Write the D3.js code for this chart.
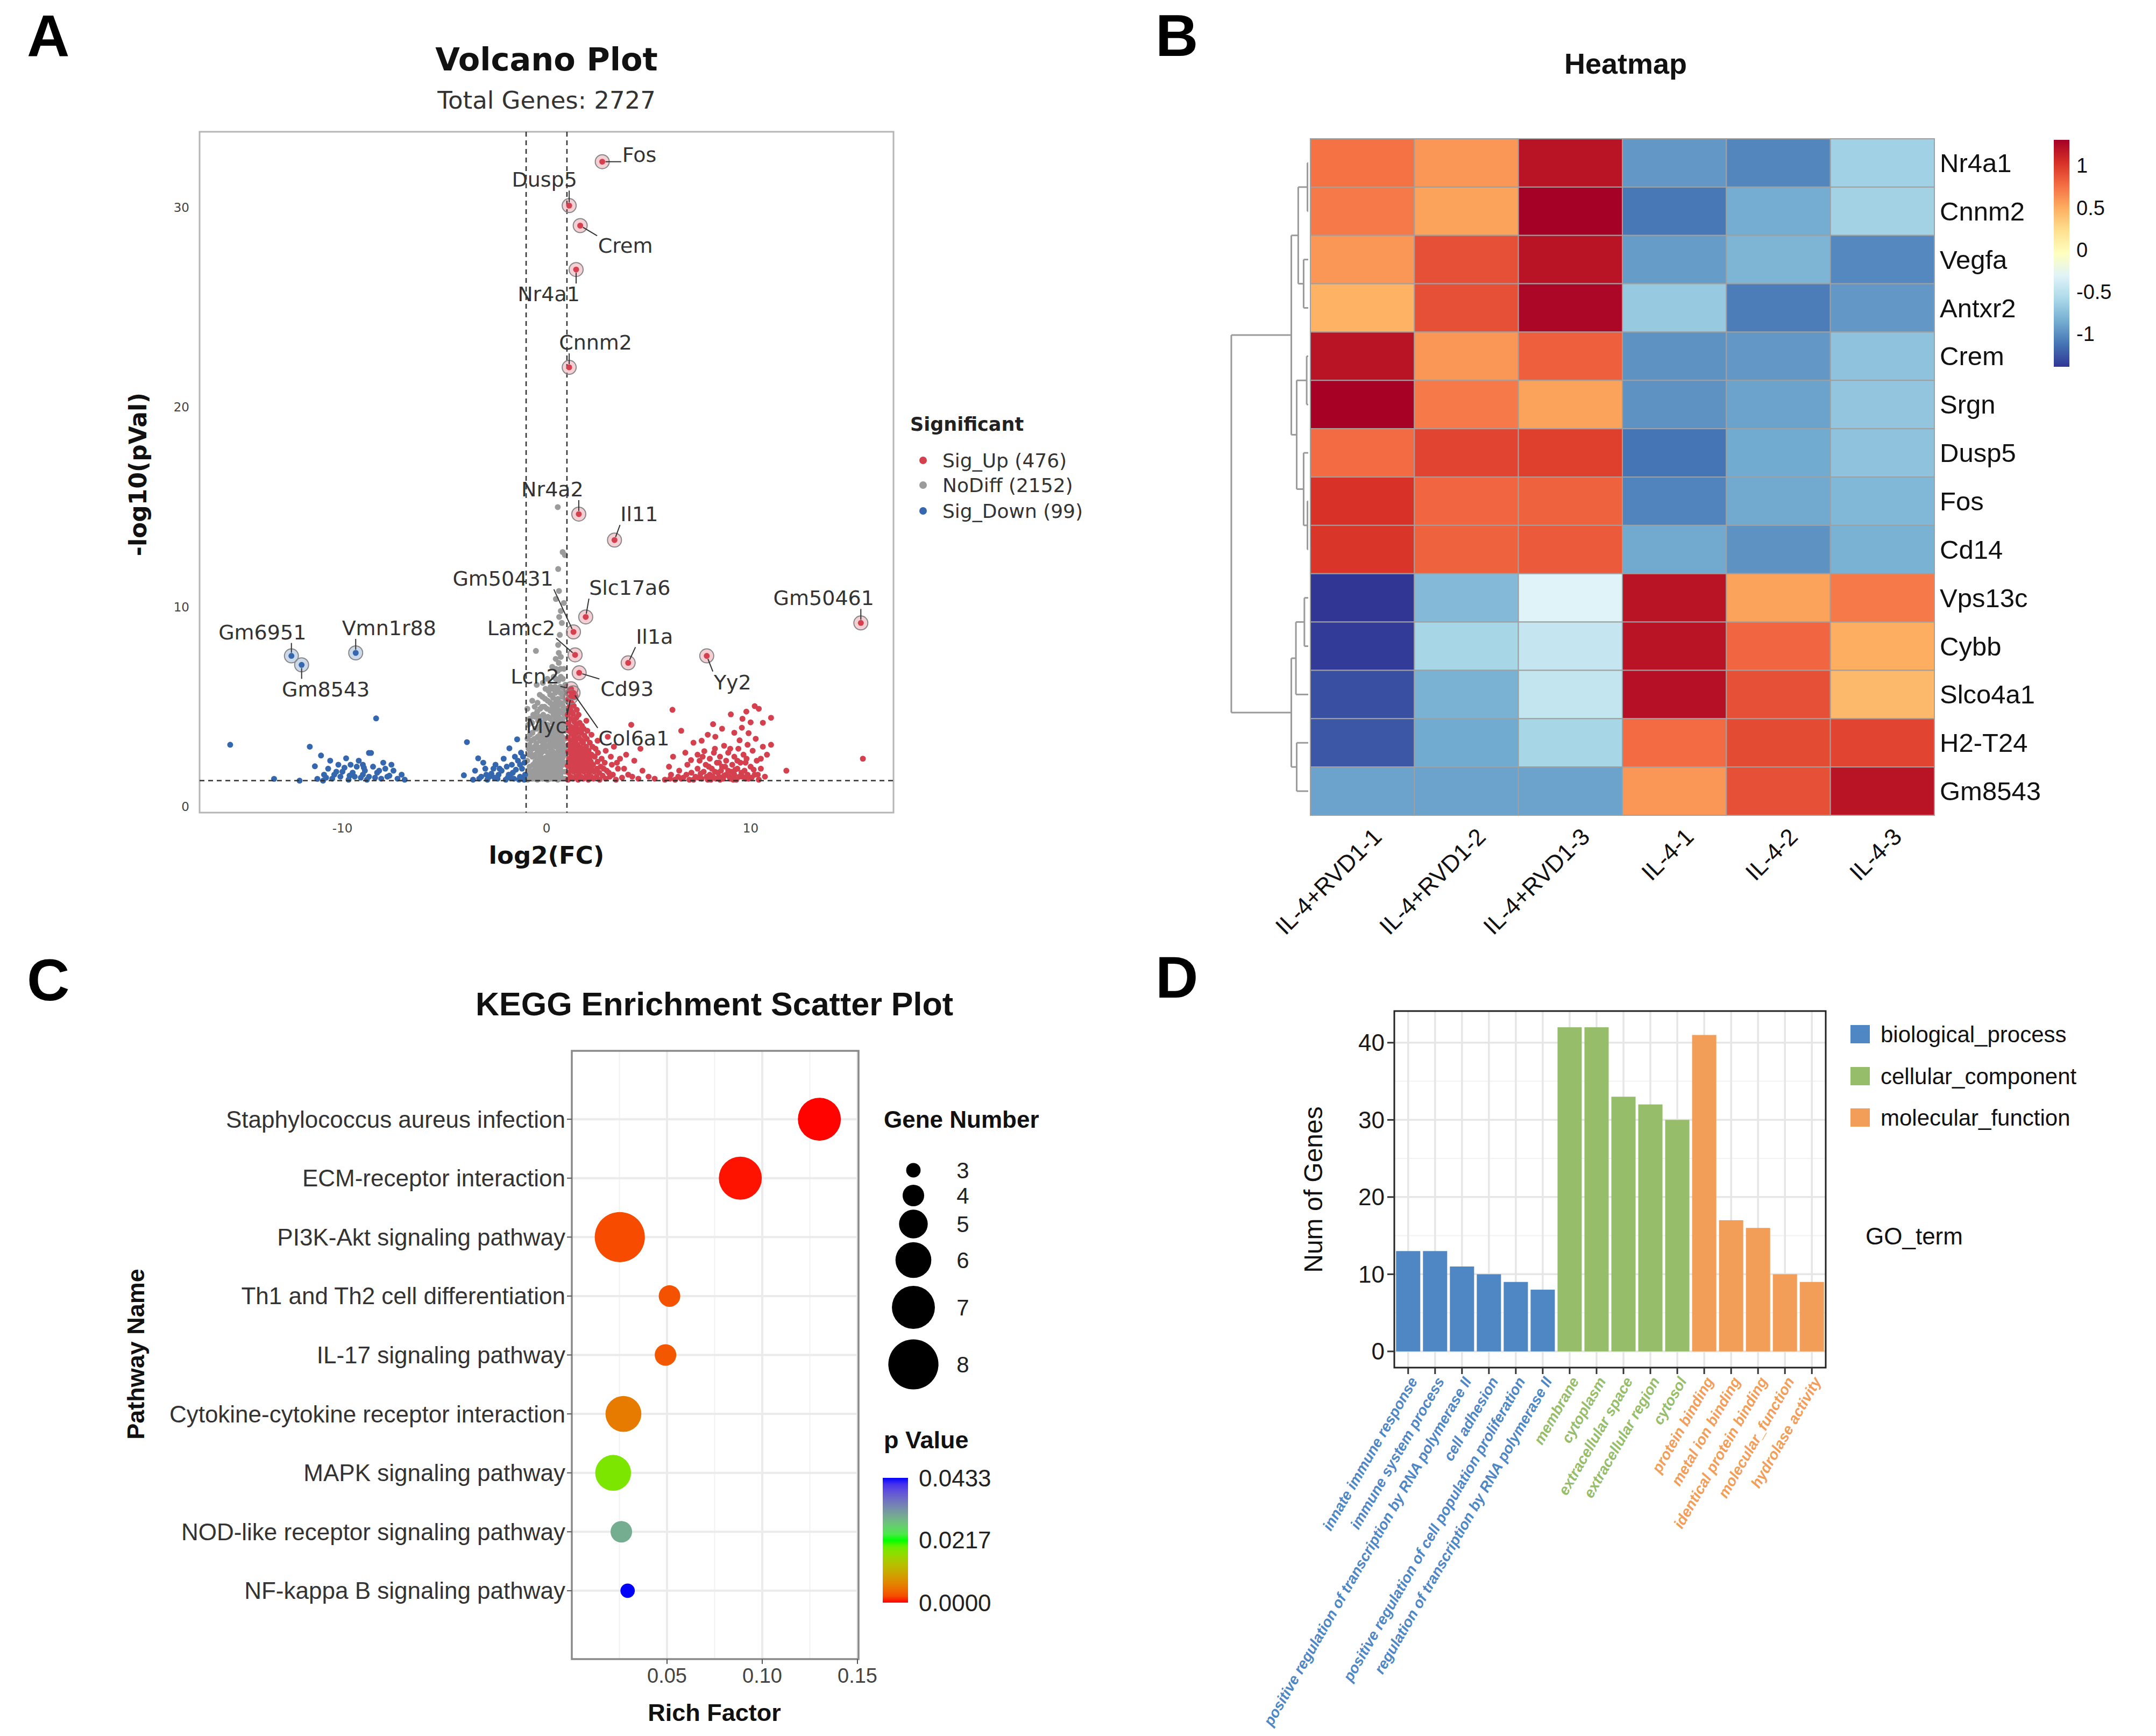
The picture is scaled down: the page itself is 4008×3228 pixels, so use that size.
<!DOCTYPE html>
<html><head><meta charset="utf-8">
<script src="https://cdn.jsdelivr.net/npm/d3@7"></script>
<style>body{margin:0;background:#fff} svg{display:block}</style>
</head><body>
<svg id="fig" width="4008" height="3228"></svg>
<script>
// ================= DATA =================
// Panel A: volcano (log2FC, -log10 p)
const volcanoNoDiff = [
[-0.92,1.35],[-0.9,1.8],[-0.95,2.3],[-0.88,2.9],[-0.93,3.4],[-0.9,4.1],[-0.94,4.9],
[-0.7,1.4],[-0.72,1.75],[-0.66,2.1],[-0.7,2.5],[-0.68,2.9],[-0.74,3.3],[-0.69,3.7],[-0.71,4.2],[-0.65,4.6],[-0.7,5.3],
[-0.45,1.35],[-0.48,1.7],[-0.42,2.05],[-0.46,2.4],[-0.44,2.8],[-0.5,3.15],[-0.43,3.5],[-0.47,3.9],[-0.41,4.3],[-0.46,4.75],[-0.44,5.2],[-0.52,7.8],[-0.48,6.1],
[-0.2,1.4],[-0.22,1.7],[-0.18,2.05],[-0.24,2.4],[-0.2,2.75],[-0.17,3.1],[-0.23,3.45],[-0.19,3.8],[-0.21,4.2],[-0.16,4.6],[-0.22,5.0],[-0.2,5.5],[-0.18,6.2],
[0.05,1.35],[0.03,1.7],[0.07,2.0],[0.02,2.35],[0.06,2.7],[0.04,3.05],[0.08,3.4],[0.03,3.75],[0.05,4.1],[0.07,4.5],[0.02,4.9],[0.06,5.3],[0.1,5.8],[0.04,6.4],
[0.3,1.4],[0.28,1.72],[0.32,2.05],[0.27,2.4],[0.31,2.75],[0.29,3.1],[0.33,3.45],[0.28,3.8],[0.3,4.2],[0.34,4.6],[0.29,5.0],[0.32,5.45],[0.3,5.9],[0.35,6.5],[0.28,7.0],
[0.55,1.35],[0.53,1.7],[0.57,2.05],[0.52,2.4],[0.56,2.75],[0.54,3.1],[0.58,3.45],[0.53,3.8],[0.55,4.2],[0.57,4.6],[0.52,5.0],[0.56,5.4],[0.54,5.85],[0.58,6.3],[0.55,6.8],[0.6,7.2],[0.57,8.1],[0.46,10.4],[0.61,10.8],[0.57,11.9],[0.55,15.0],
[0.8,1.4],[0.78,1.75],[0.82,2.1],[0.79,2.45],[0.83,2.8],[0.8,3.15],[0.77,3.5],[0.81,3.85],[0.79,4.25],[0.84,4.65],[0.8,5.05],[0.78,5.5],[0.82,5.95],[0.8,6.4],[0.85,6.9],[0.79,12.75],[0.9,12.6],[0.75,9.2],[0.7,9.8],[0.65,8.6],
[-0.6,1.55],[-0.35,1.55],[-0.1,1.55],[0.15,1.55],[0.42,1.55],[0.68,1.55],[-0.85,2.6],[-0.58,3.0],[-0.32,3.3],[-0.06,3.6],[0.18,3.9],[0.44,4.4],[0.68,4.0],[0.92,3.0],[0.93,4.5],[0.9,5.7],
[-0.35,4.5],[-0.1,5.0],[0.18,5.2],[0.42,6.0],[0.68,6.0],[0.7,7.5],[0.45,7.4],[0.62,9.5],[0.85,10.2],[0.6,7.7],[-0.8,1.6],[-0.55,2.25],[-0.3,2.6],[-0.05,2.2],[0.2,2.9],[0.45,3.0],[0.68,3.3],[0.92,2.2],
[-0.82,1.5],[-0.83,2.0],[-0.8,2.7],[-0.84,3.1],[-0.81,3.6],[-0.82,4.4],
[-0.57,1.4],[-0.58,1.85],[-0.56,2.6],[-0.59,3.4],[-0.55,3.9],[-0.57,4.5],[-0.58,5.0],
[-0.32,1.4],[-0.33,1.9],[-0.31,2.25],[-0.34,2.95],[-0.3,3.65],[-0.33,4.0],[-0.31,4.9],[-0.33,5.6],
[-0.07,1.4],[-0.08,1.85],[-0.06,2.45],[-0.09,2.9],[-0.07,3.3],[-0.06,4.0],[-0.08,4.4],[-0.07,5.4],[-0.05,5.9],
[0.18,1.4],[0.17,1.85],[0.19,2.2],[0.16,2.55],[0.18,3.25],[0.2,3.6],[0.17,4.4],[0.19,4.8],[0.18,5.6],[0.2,6.0],
[0.43,1.4],[0.42,1.9],[0.44,2.25],[0.43,2.6],[0.42,3.3],[0.44,3.65],[0.43,4.0],[0.42,4.8],[0.44,5.2],[0.43,5.7],[0.45,6.4],[0.46,6.9],
[0.68,1.4],[0.67,1.9],[0.69,2.25],[0.68,2.6],[0.67,2.95],[0.69,3.65],[0.68,4.4],[0.67,4.8],[0.69,5.2],[0.68,5.7],[0.7,6.5],[0.69,6.9],
[0.92,1.4],[0.91,1.75],[0.93,2.6],[0.92,3.4],[0.91,3.8],[0.93,4.1],[0.92,4.9],[0.93,5.3],[0.92,6.1]
];
const volcanoUp = [
[1.05,1.35],[1.08,1.7],[1.04,2.05],[1.1,2.4],[1.06,2.75],[1.09,3.1],[1.05,3.45],[1.1,3.8],[1.07,4.2],[1.04,4.6],[1.12,5.0],[1.08,5.4],[1.15,5.8],
[1.3,1.4],[1.33,1.75],[1.28,2.1],[1.35,2.45],[1.31,2.8],[1.27,3.15],[1.34,3.5],[1.3,3.85],[1.36,4.25],[1.29,4.65],[1.33,5.05],[1.38,5.5],
[1.55,1.35],[1.58,1.7],[1.52,2.05],[1.6,2.4],[1.56,2.75],[1.53,3.1],[1.59,3.45],[1.55,3.85],[1.62,4.2],[1.57,4.6],
[1.8,1.4],[1.83,1.75],[1.78,2.1],[1.85,2.45],[1.81,2.8],[1.79,3.2],[1.86,3.55],[1.82,3.9],
[2.05,1.35],[2.08,1.7],[2.03,2.05],[2.1,2.4],[2.06,2.8],[2.12,3.2],
[2.3,1.4],[2.33,1.75],[2.28,2.1],[2.36,2.5],[2.4,2.9],
[2.6,1.35],[2.58,1.7],[2.65,2.0],[2.7,2.4],
[2.9,1.4],[2.95,1.8],[3.1,1.5],[3.2,2.1],[3.4,1.35],[3.5,1.9],[3.7,1.45],[3.9,2.6],[4.15,4.1],[4.5,1.4],[4.7,1.8],[2.9,2.8],[3.3,3.0],[3.6,2.4],[4.0,1.6],[4.3,2.3],[2.2,3.6],[1.95,4.3],[2.5,3.3],[3.0,3.5],[4.6,2.9],[5.0,1.5],[5.3,1.4],
[1.18,1.5],[1.2,1.9],[1.19,2.25],[1.21,2.6],[1.18,2.95],[1.2,3.3],[1.22,3.65],[1.19,4.0],[1.21,4.4],[1.2,4.8],[1.22,5.2],[1.25,5.6],
[1.43,1.5],[1.45,1.9],[1.42,2.25],[1.46,2.6],[1.44,2.95],[1.43,3.3],[1.47,3.7],[1.45,4.05],[1.46,4.45],[1.48,4.85],
[1.68,1.5],[1.7,1.9],[1.67,2.25],[1.71,2.6],[1.69,2.95],[1.72,3.3],[1.7,3.7],[1.73,4.05],
[1.93,1.5],[1.95,1.9],[1.92,2.25],[1.96,2.6],[1.94,3.0],[1.97,3.4],[2.0,3.8],
[2.18,1.5],[2.2,1.9],[2.17,2.25],[2.21,2.6],[2.25,3.0],
[2.45,1.5],[2.47,1.9],[2.5,2.25],[2.52,2.7],[2.75,1.55],[2.8,1.9],[2.85,2.2],[3.05,1.7],[3.25,1.6],[3.15,2.5],[3.45,2.2],[3.8,1.9],[4.2,1.5],
[5.8,1.35],[6.1,1.6],[6.3,1.35],[6.5,1.8],[6.7,1.45],[6.9,2.1],[7.0,1.35],[7.1,1.7],[7.08,2.33],[7.3,1.5],[7.4,1.9],[7.5,2.3],[7.6,1.4],[7.73,2.78],[7.7,1.75],[7.8,2.1],[7.9,1.35],[8.0,1.6],[8.0,2.4],[8.1,1.9],[8.2,2.7],[8.27,3.5],[8.3,1.4],[8.35,2.2],[8.4,1.7],[8.5,2.5],[8.5,1.35],[8.6,2.0],[8.7,3.05],[8.7,1.55],[8.8,2.3],[8.9,1.8],[8.9,2.7],[9.0,1.4],[9.03,4.62],[9.1,2.1],[9.2,1.6],[9.2,2.5],[9.3,1.35],[9.35,1.9],[9.4,2.9],[9.46,3.32],[9.5,2.2],[9.57,3.95],[9.6,1.5],[9.7,1.8],[9.79,4.76],[9.8,2.4],[9.9,3.68],[9.9,1.4],[10.0,4.22],[10.0,2.0],[10.1,2.8],[10.2,5.03],[10.2,1.6],[10.3,2.3],[10.4,4.9],[10.4,1.35],[10.5,1.9],[10.6,3.0],[10.7,1.5],[11.0,4.45],[11.0,3.1],[11.75,1.8],[15.5,2.4],[6.17,4.85],[8.16,4.13],[6.6,3.8],[7.2,3.2],[7.9,3.6],[9.2,3.7],[6.2,2.5],[6.0,2.0],[6.8,2.7],[7.6,3.3],[10.8,2.6],[10.6,4.2],[8.6,3.9],[9.6,4.4],[7.4,2.6],
[7.2,1.35],[7.45,1.45],[7.55,1.65],[7.85,1.5],[8.05,1.35],[8.15,1.5],[8.25,1.75],[8.45,1.5],[8.55,1.8],[8.65,1.4],[8.8,1.6],[8.95,1.5],[9.05,1.75],[9.15,1.35],[9.25,1.85],[9.45,1.5],[9.55,1.7],[9.75,1.4],[9.85,1.6],[10.05,1.45],[10.15,1.85],[10.35,1.6],[6.85,1.6],[6.6,1.4],[6.45,1.5],[6.05,1.4],[8.75,2.0],[9.35,2.3],[9.65,2.6],[8.45,2.2],[8.25,2.9],[9.0,2.9],[9.75,2.2],[7.95,2.0],[7.65,2.5],[10.5,2.4],[10.25,3.4],[9.85,3.1]
];
const volcanoDown = [
[-15.5,3.1],[-13.35,1.39],[-11.6,3.0],[-11.35,2.02],[-11.23,1.39],[-11.05,2.56],[-10.9,1.6],[-10.7,1.9],[-10.5,1.4],[-10.3,1.75],[-10.1,1.5],[-9.82,2.42],[-9.9,1.95],[-9.7,1.35],[-9.5,1.7],[-9.3,2.0],[-9.1,1.45],[-8.9,1.8],[-8.7,2.69],[-8.6,2.69],[-8.7,1.5],[-8.5,2.0],[-8.35,4.42],[-8.3,1.7],[-8.1,1.4],[-7.9,1.9],[-7.7,1.55],[-7.5,1.8],[-7.3,1.4],[-7.1,1.6],[-6.95,1.35],[-10.6,2.3],[-9.2,2.3],[-8.0,2.2],[-10.95,1.3],[-9.6,2.1],[-8.8,1.35],[-7.6,2.1],[-12.1,1.3],[-9.0,2.1],[-10.2,2.1],
[-10.4,1.6],[-10.0,1.75],[-9.4,1.5],[-9.0,1.6],[-8.4,1.45],[-8.2,1.8],[-7.8,1.5],[-10.8,1.45],[-9.65,1.55],[-8.95,1.95],
[-3.9,3.23],[-4.05,1.57],[-3.5,1.8],[-3.35,2.42],[-3.6,1.35],[-3.2,1.5],[-3.0,1.9],[-2.9,1.35],[-2.7,1.65],[-2.5,2.1],[-2.4,1.4],[-2.2,1.8],[-2.1,2.4],[-2.0,1.35],[-1.82,2.92],[-1.85,1.6],[-1.7,2.1],[-1.6,1.4],[-1.5,1.85],[-1.44,3.37],[-1.4,2.3],[-1.3,1.5],[-1.25,2.7],[-1.2,1.9],[-1.1,1.35],[-1.08,2.2],[-1.05,1.6],[-1.15,2.5],[-2.6,1.9],[-3.1,2.2],[-1.95,2.0],[-1.35,1.35],[-2.35,1.6],[-1.75,1.45],
[-2.8,1.5],[-2.55,1.45],[-2.3,1.9],[-1.9,1.45],[-1.65,1.7],[-1.55,2.5],[-1.2,1.4],[-1.3,2.1],[-3.3,1.4],[-2.95,1.6]
];
const volcanoLabelGenes = ["Fos","Dusp5","Crem","Nr4a1","Cnnm2","Nr4a2","Il11","Slc17a6","Gm50461","Gm50431","Lamc2","Il1a","Yy2","Cd93","Lcn2","Myc","Col6a1","Gm6951","Gm8543","Vmn1r88"];
const volcanoLabelFC = [2.73,1.11,1.65,1.45,1.11,1.58,3.33,1.92,15.4,1.32,1.4,4.0,7.85,1.6,1.2,1.2,1.3,-12.5,-12.0,-9.35];
const volcanoLabelP  = [32.3,30.1,29.1,26.9,22.0,14.65,13.35,9.5,9.2,8.75,7.6,7.2,7.55,6.7,5.9,5.5,5.7,7.55,7.1,7.7];
const volcanoLabelGroup = ["up","up","up","up","up","up","up","up","up","up","up","up","up","up","up","up","up","down","down","down"];
const volcanoLegendLabels = ["Sig_Up (476)","NoDiff (2152)","Sig_Down (99)"];
const volcanoXTicks = [-10,0,10];
const volcanoYTicks = [0,10,20,30];
const volcanoFCcut = [-1,1];
const volcanoPcut = 1.3;

// Panel B: heatmap
const heatGenes = ["Nr4a1","Cnnm2","Vegfa","Antxr2","Crem","Srgn","Dusp5","Fos","Cd14","Vps13c","Cybb","Slco4a1","H2-T24","Gm8543"];
const heatSamples = ["IL-4+RVD1-1","IL-4+RVD1-2","IL-4+RVD1-3","IL-4-1","IL-4-2","IL-4-3"];
const heatValues = [
[0.75,0.6,1.2,-0.95,-1.04,-0.63],
[0.72,0.55,1.31,-1.1,-0.85,-0.62],
[0.6,0.9,1.2,-0.93,-0.8,-1.03],
[0.48,0.9,1.27,-0.68,-1.08,-0.95],
[1.2,0.6,0.83,-0.98,-0.95,-0.72],
[1.3,0.72,0.55,-0.98,-0.9,-0.7],
[0.78,0.95,0.97,-1.12,-0.86,-0.72],
[1.03,0.8,0.82,-1.05,-0.87,-0.78],
[1.02,0.82,0.85,-0.87,-0.98,-0.82],
[-1.39,-0.77,-0.31,1.2,0.55,0.72],
[-1.37,-0.6,-0.45,1.2,0.8,0.5],
[-1.28,-0.82,-0.46,1.22,0.9,0.44],
[-1.25,-0.86,-0.6,0.78,0.92,0.95],
[-0.9,-0.9,-0.9,0.6,0.9,1.2]
];
const heatRowTree = {h:10, c:[
  {h:2.2, c:[
    {h:1.3, c:[{h:0.1,c:["Nr4a1","Cnnm2"]},{h:0.6,c:["Vegfa","Antxr2"]}]},
    {h:1.5, c:[{h:0.2,c:["Crem","Srgn"]},{h:0.6,c:["Dusp5",{h:0.1,c:["Fos","Cd14"]}]}]}
  ]},
  {h:2.2, c:[
    {h:1.6, c:[{h:0.5,c:["Vps13c","Cybb"]},"Slco4a1"]},
    {h:1.5, c:["H2-T24","Gm8543"]}
  ]}
]};
const heatLegendTicks = [1,0.5,0,-0.5,-1];
const heatRange = [-1.39,1.31];
const heatPalette = ["#313695","#4575B4","#74ADD1","#ABD9E9","#E0F3F8","#FFFFBF","#FEE090","#FDAE61","#F46D43","#D73027","#A50026"];

// Panel C: KEGG
const keggPathways = ["Staphylococcus aureus infection","ECM-receptor interaction","PI3K-Akt signaling pathway","Th1 and Th2 cell differentiation","IL-17 signaling pathway","Cytokine-cytokine receptor interaction","MAPK signaling pathway","NOD-like receptor signaling pathway","NF-kappa B signaling pathway"];
const keggRichFactor = [0.130,0.0885,0.0252,0.0513,0.0492,0.0271,0.0217,0.026,0.0293];
const keggGeneNumber = [7,7,8,4,4,6,6,4,3];
const keggPValue = [0.00003,0.0002,0.0022,0.0026,0.003,0.0058,0.0182,0.0297,0.0433];
const keggSizeLegend = [3,4,5,6,7,8];
const keggPLegend = [0.0433,0.0217,0.0000];
const keggXTicks = [0.05,0.10,0.15];
const keggXMinor = [0.025,0.075,0.125];

// Panel D: GO
const goTerms = ["innate immune response","immune system process","positive regulation of transcription by RNA polymerase II","cell adhesion","positive regulation of cell population proliferation","regulation of transcription by RNA polymerase II","membrane","cytoplasm","extracellular space","extracellular region","cytosol","protein binding","metal ion binding","identical protein binding","molecular_function","hydrolase activity"];
const goCounts = [13,13,11,10,9,8,42,42,33,32,30,41,17,16,10,9];
const goCategory = ["biological_process","biological_process","biological_process","biological_process","biological_process","biological_process","cellular_component","cellular_component","cellular_component","cellular_component","cellular_component","molecular_function","molecular_function","molecular_function","molecular_function","molecular_function"];
const goCategoryNames = ["biological_process","cellular_component","molecular_function"];
const goYTicks = [0,10,20,30,40];
const goYMinor = [5,15,25,35];

// ================= LAYOUT / STYLE =================
const FONT_DJ = "DejaVu Sans";
const FONT_LS = "Liberation Sans, Arial, sans-serif";
const svg = d3.select("#fig");
svg.append("rect").attr("width",4008).attr("height",3228).attr("fill","#fff");

function txt(g, x, y, s, o) {
  const t = g.append("text").attr("x",x).attr("y",y).text(s);
  for (const k in (o||{})) t.attr(k,o[k]);
  return t;
}

// panel letters
const panelLetters = ["A","B","C","D"];
const panelLetterPos = [[50,104],[2148,104],[50,1860],[2148,1855]];
panelLetters.forEach((L,i)=>txt(svg,panelLetterPos[i][0],panelLetterPos[i][1],L,{"font-family":FONT_LS,"font-weight":"bold","font-size":110,"fill":"#000"}));

// ================= PANEL A =================
(function(){
  const P = {left:371,right:1661,top:245,bottom:1511};
  const g = svg.append("g");
  const x = d3.scaleLinear().domain([-17,17]).range([P.left,P.right]);
  const y = d3.scaleLinear().domain([-0.3,33.8]).range([P.bottom,P.top]);
  const colUp="#d5404f", colNo="#9b9b9b", colDown="#3567ae";
  const R = 5.5;

  txt(g,1016,131,"Volcano Plot",{"font-family":FONT_DJ,"font-weight":"bold","font-size":59,"text-anchor":"middle","fill":"#111"});
  txt(g,1016,202,"Total Genes: 2727",{"font-family":FONT_DJ,"font-size":45,"text-anchor":"middle","fill":"#333"});

  g.append("rect").attr("x",P.left).attr("y",P.top).attr("width",P.right-P.left).attr("height",P.bottom-P.top)
    .attr("fill","#fff").attr("stroke","#b5b5b5").attr("stroke-width",3);

  const pts = g.append("g");
  pts.selectAll("c.no").data(volcanoNoDiff).enter().append("circle").attr("cx",d=>x(d[0])).attr("cy",d=>y(d[1])).attr("r",R).attr("fill",colNo);
  pts.selectAll("c.dn").data(volcanoDown).enter().append("circle").attr("cx",d=>x(d[0])).attr("cy",d=>y(d[1])).attr("r",R).attr("fill",colDown);
  pts.selectAll("c.up").data(volcanoUp).enter().append("circle").attr("cx",d=>x(d[0])).attr("cy",d=>y(d[1])).attr("r",R).attr("fill",colUp);

  // threshold lines
  volcanoFCcut.forEach(v=>g.append("line").attr("x1",x(v)).attr("x2",x(v)).attr("y1",P.top).attr("y2",P.bottom)
    .attr("stroke","#333").attr("stroke-width",2.5).attr("stroke-dasharray","9,7"));
  g.append("line").attr("x1",P.left).attr("x2",P.right).attr("y1",y(volcanoPcut)).attr("y2",y(volcanoPcut))
    .attr("stroke","#333").attr("stroke-width",2.5).attr("stroke-dasharray","9,7");

  // labelled genes
  const labelOffsets = [[69,-13],[-46,-48],[84,38],[-51,46],[49,-46],[-49,-46],[46,-48],[82,-54],[-69,-46],[-131,-99],[-100,-50],[49,-49],[48,49],[89,30],[-67,-23],[-46,54],[113,85],[-54,-44],[45,46],[62,-46]];
  const lg = g.append("g");
  volcanoLabelGenes.forEach((name,i)=>{
    const px = x(volcanoLabelFC[i]), py = y(volcanoLabelP[i]);
    const col = volcanoLabelGroup[i]==="up"?colUp:colDown;
    lg.append("circle").attr("cx",px).attr("cy",py).attr("r",13).attr("fill",col).attr("fill-opacity",0.25).attr("stroke","#888").attr("stroke-width",2);
    lg.append("circle").attr("cx",px).attr("cy",py).attr("r",R).attr("fill",col);
    const t = txt(lg,px+labelOffsets[i][0],py+labelOffsets[i][1],name,{"font-family":FONT_DJ,"font-size":38,"text-anchor":"middle","dominant-baseline":"central","fill":"#333"});
    const b = t.node().getBBox();
    const qx = Math.max(b.x, Math.min(px, b.x+b.width));
    const qy = Math.max(b.y+4, Math.min(py, b.y+b.height-4));
    const dx = qx-px, dy = qy-py, dist = Math.hypot(dx,dy);
    if (dist>14) {
      lg.append("line").attr("x1",px+dx/dist*6).attr("y1",py+dy/dist*6).attr("x2",qx-dx/dist*2).attr("y2",qy-dy/dist*2)
        .attr("stroke","#333").attr("stroke-width",2);
    }
  });

  // axes tick labels
  volcanoXTicks.forEach(v=>txt(g,x(v),1540,v,{"font-family":FONT_DJ,"font-size":23,"text-anchor":"middle","dominant-baseline":"central","fill":"#444"}));
  volcanoYTicks.forEach(v=>txt(g,352,y(v),v,{"font-family":FONT_DJ,"font-size":23,"text-anchor":"end","dominant-baseline":"central","fill":"#444"}));
  txt(g,1016,1606,"log2(FC)",{"font-family":FONT_DJ,"font-weight":"bold","font-size":45,"text-anchor":"middle","fill":"#111"});
  txt(g,0,0,"-log10(pVal)",{"font-family":FONT_DJ,"font-weight":"bold","font-size":44,"text-anchor":"middle","fill":"#111","transform":"translate(272,882) rotate(-90)"});

  // legend
  txt(g,1692,801,"Significant",{"font-family":FONT_DJ,"font-weight":"bold","font-size":35,"fill":"#222"});
  const legCols = [colUp,colNo,colDown];
  const legY = [856,902,950];
  volcanoLegendLabels.forEach((s,i)=>{
    g.append("circle").attr("cx",1716).attr("cy",legY[i]).attr("r",7).attr("fill",legCols[i]);
    txt(g,1752,legY[i],s,{"font-family":FONT_DJ,"font-size":36,"dominant-baseline":"central","fill":"#333"});
  });
})();

// ================= PANEL B =================
(function(){
  const P = {left:2436,right:3596,top:258,bottom:1516};
  const g = svg.append("g");
  const x = d3.scaleBand().domain(heatSamples).range([P.left,P.right]);
  const y = d3.scaleBand().domain(heatGenes).range([P.top,P.bottom]);
  const stops = heatPalette.map((c,i)=>heatRange[0]+(heatRange[1]-heatRange[0])*i/(heatPalette.length-1));
  const color = d3.scaleLinear().domain(stops).range(heatPalette).interpolate(d3.interpolateRgb).clamp(true);

  txt(g,3022,137,"Heatmap",{"font-family":FONT_LS,"font-weight":"bold","font-size":54,"text-anchor":"middle","fill":"#111"});

  heatGenes.forEach((gene,r)=>heatSamples.forEach((s,c)=>{
    g.append("rect").attr("x",x(s)).attr("y",y(gene)).attr("width",x.bandwidth()).attr("height",y.bandwidth())
      .attr("fill",color(heatValues[r][c])).attr("stroke","#a0a0a0").attr("stroke-width",2);
  }));
  heatGenes.forEach(gene=>txt(g,3606,y(gene)+y.bandwidth()/2,gene,{"font-family":FONT_LS,"font-size":49,"dominant-baseline":"central","fill":"#111"}));
  heatSamples.forEach(s=>txt(g,0,0,s,{"font-family":FONT_LS,"font-size":44,"text-anchor":"end","dominant-baseline":"hanging","fill":"#111",
    "transform":`translate(${x(s)+x.bandwidth()/2+16},${P.bottom+20}) rotate(-45)`}));

  // dendrogram
  const dX = d3.scaleLinear().domain([0,10]).range([2432,2289]);
  const dg = g.append("g").attr("stroke","#9a9a9a").attr("stroke-width",3).attr("fill","none");
  function draw(node){
    if (typeof node === "string") return {y:y(node)+y.bandwidth()/2, h:0};
    const kids = node.c.map(draw);
    const xx = dX(node.h);
    dg.append("line").attr("x1",xx).attr("x2",xx).attr("y1",kids[0].y).attr("y2",kids[1].y);
    kids.forEach(k=>dg.append("line").attr("x1",xx).attr("x2",dX(k.h)).attr("y1",k.y).attr("y2",k.y));
    return {y:(kids[0].y+kids[1].y)/2, h:node.h};
  }
  draw(heatRowTree);

  // colour bar
  const cb = {x:3818,w:29,top:260,bottom:682};
  const cy = d3.scaleLinear().domain(heatRange).range([cb.bottom,cb.top]);
  const grad = svg.append("defs").append("linearGradient").attr("id","hmgrad").attr("x1",0).attr("x2",0).attr("y1",1).attr("y2",0);
  heatPalette.forEach((c,i)=>grad.append("stop").attr("offset",i/(heatPalette.length-1)).attr("stop-color",c));
  g.append("rect").attr("x",cb.x).attr("y",cb.top).attr("width",cb.w).attr("height",cb.bottom-cb.top).attr("fill","url(#hmgrad)");
  heatLegendTicks.forEach(v=>txt(g,3860,cy(v),v,{"font-family":FONT_LS,"font-size":38,"dominant-baseline":"central","fill":"#111"}));
})();

// ================= PANEL C =================
(function(){
  const P = {left:1063,right:1596,top:1954,bottom:3085};
  const g = svg.append("g");
  const x = d3.scaleLinear().domain([0,0.15]).range([1063,1594]);
  const y = d3.scalePoint().domain(keggPathways).range([P.top,P.bottom]).padding(1.16);
  const size = d3.scaleLinear().domain([3,8]).range([13.4,46.6]);
  const color = d3.scaleLinear().domain([0,0.02165,0.0433]).range(["#ff0000","#00ff00","#0000ff"]).interpolate(d3.interpolateLab);

  txt(g,1328,1888,"KEGG Enrichment Scatter Plot",{"font-family":FONT_LS,"font-weight":"bold","font-size":61,"text-anchor":"middle","fill":"#111"});

  g.append("rect").attr("x",P.left).attr("y",P.top).attr("width",P.right-P.left).attr("height",P.bottom-P.top).attr("fill","#fff");
  keggXMinor.forEach(v=>g.append("line").attr("x1",x(v)).attr("x2",x(v)).attr("y1",P.top).attr("y2",P.bottom).attr("stroke","#f2f2f2").attr("stroke-width",2));
  keggXTicks.forEach(v=>g.append("line").attr("x1",x(v)).attr("x2",x(v)).attr("y1",P.top).attr("y2",P.bottom).attr("stroke","#ebebeb").attr("stroke-width",4));
  keggPathways.forEach(p=>g.append("line").attr("x1",P.left).attr("x2",P.right).attr("y1",y(p)).attr("y2",y(p)).attr("stroke","#ebebeb").attr("stroke-width",4));
  g.append("rect").attr("x",P.left).attr("y",P.top).attr("width",P.right-P.left).attr("height",P.bottom-P.top).attr("fill","none").attr("stroke","#8a8a8a").attr("stroke-width",3.5);

  keggPathways.forEach((p,i)=>{
    g.append("circle").attr("cx",x(keggRichFactor[i])).attr("cy",y(p)).attr("r",size(keggGeneNumber[i])).attr("fill",color(keggPValue[i]));
  });

  // axes
  keggPathways.forEach(p=>{
    g.append("line").attr("x1",P.left-9).attr("x2",P.left).attr("y1",y(p)).attr("y2",y(p)).attr("stroke","#555").attr("stroke-width",2);
    txt(g,P.left-12,y(p),p,{"font-family":FONT_LS,"font-size":44,"text-anchor":"end","dominant-baseline":"central","fill":"#333"});
  });
  keggXTicks.forEach(v=>{
    g.append("line").attr("x1",x(v)).attr("x2",x(v)).attr("y1",P.bottom).attr("y2",P.bottom+9).attr("stroke","#555").attr("stroke-width",2);
    txt(g,x(v),3116,v.toFixed(2),{"font-family":FONT_LS,"font-size":38,"text-anchor":"middle","dominant-baseline":"central","fill":"#444"});
  });
  txt(g,1328,3200,"Rich Factor",{"font-family":FONT_LS,"font-weight":"bold","font-size":45,"text-anchor":"middle","fill":"#111"});
  txt(g,0,0,"Pathway Name",{"font-family":FONT_LS,"font-weight":"bold","font-size":45,"text-anchor":"middle","fill":"#111","transform":"translate(268,2518) rotate(-90)"});

  // size legend
  txt(g,1643,2097,"Gene Number",{"font-family":FONT_LS,"font-weight":"bold","font-size":44,"fill":"#111"});
  const sizeLegendY = [2176,2223,2276,2343,2431,2537];
  keggSizeLegend.forEach((n,i)=>{
    g.append("circle").attr("cx",1698).attr("cy",sizeLegendY[i]).attr("r",size(n)).attr("fill","#000");
    txt(g,1790,sizeLegendY[i],n,{"font-family":FONT_LS,"font-size":42,"text-anchor":"middle","dominant-baseline":"central","fill":"#222"});
  });
  // colour legend
  txt(g,1643,2693,"p Value",{"font-family":FONT_LS,"font-weight":"bold","font-size":45,"fill":"#111"});
  const cb = {x:1641,w:47,top:2748,bottom:2980};
  const cy = d3.scaleLinear().domain([0,0.0433]).range([cb.bottom,cb.top]);
  const grad = svg.append("defs").append("linearGradient").attr("id","pvgrad").attr("x1",0).attr("x2",0).attr("y1",1).attr("y2",0);
  d3.range(0,21).forEach(i=>grad.append("stop").attr("offset",i/20).attr("stop-color",color(0.0433*i/20)));
  g.append("rect").attr("x",cb.x).attr("y",cb.top).attr("width",cb.w).attr("height",cb.bottom-cb.top).attr("fill","url(#pvgrad)");
  keggPLegend.forEach(v=>txt(g,1708,cy(v),v.toFixed(4),{"font-family":FONT_LS,"font-size":44,"dominant-baseline":"central","fill":"#222"}));
})();

// ================= PANEL D =================
(function(){
  const P = {left:2592,right:3394,top:1880,bottom:2543};
  const g = svg.append("g");
  const x = d3.scaleBand().domain(goTerms).range([P.left,P.right]).paddingInner(0.1).paddingOuter(0.065);
  const y = d3.scaleLinear().domain([-2.1,44.1]).range([P.bottom,P.top]);
  const catColor = d3.scaleOrdinal().domain(goCategoryNames).range(["#4f87c5","#96bd69","#f29d58"]);

  g.append("rect").attr("x",P.left).attr("y",P.top).attr("width",P.right-P.left).attr("height",P.bottom-P.top).attr("fill","#fff");
  goYMinor.forEach(v=>g.append("line").attr("x1",P.left).attr("x2",P.right).attr("y1",y(v)).attr("y2",y(v)).attr("stroke","#f2f2f2").attr("stroke-width",2));
  goYTicks.forEach(v=>g.append("line").attr("x1",P.left).attr("x2",P.right).attr("y1",y(v)).attr("y2",y(v)).attr("stroke","#e6e6e6").attr("stroke-width",3.5));
  goTerms.forEach(t=>g.append("line").attr("x1",x(t)+x.bandwidth()/2).attr("x2",x(t)+x.bandwidth()/2).attr("y1",P.top).attr("y2",P.bottom).attr("stroke","#e6e6e6").attr("stroke-width",3.5));

  goTerms.forEach((t,i)=>g.append("rect").attr("x",x(t)).attr("y",y(goCounts[i])).attr("width",x.bandwidth()).attr("height",y(0)-y(goCounts[i])).attr("fill",catColor(goCategory[i])));
  g.append("rect").attr("x",P.left).attr("y",P.top).attr("width",P.right-P.left).attr("height",P.bottom-P.top).attr("fill","none").attr("stroke","#222").attr("stroke-width",3);

  goYTicks.forEach(v=>{
    g.append("line").attr("x1",P.left-13).attr("x2",P.left).attr("y1",y(v)).attr("y2",y(v)).attr("stroke","#333").attr("stroke-width",3);
    txt(g,P.left-18,y(v),v,{"font-family":FONT_LS,"font-size":44,"text-anchor":"end","dominant-baseline":"central","fill":"#1a1a1a"});
  });
  goTerms.forEach((t,i)=>{
    const cx = x(t)+x.bandwidth()/2;
    g.append("line").attr("x1",cx).attr("x2",cx).attr("y1",P.bottom).attr("y2",P.bottom+12).attr("stroke","#333").attr("stroke-width",3);
    txt(g,0,0,t,{"font-family":FONT_LS,"font-size":27.5,"font-style":"italic","font-weight":"bold","text-anchor":"end","dominant-baseline":"central","fill":catColor(goCategory[i]),
      "transform":`translate(${cx+10},${P.bottom+20}) rotate(-60)`});
  });
  txt(g,0,0,"Num of Genes",{"font-family":FONT_LS,"font-size":48,"text-anchor":"middle","fill":"#111","transform":"translate(2458,2212) rotate(-90)"});

  const legY = [1906,1984,2061];
  goCategoryNames.forEach((c,i)=>{
    g.append("rect").attr("x",3440).attr("y",legY[i]).attr("width",36).attr("height",34).attr("fill",catColor(c));
    txt(g,3496,legY[i]+17,c,{"font-family":FONT_LS,"font-size":42,"dominant-baseline":"central","fill":"#111"});
  });
  txt(g,3468,2298,"GO_term",{"font-family":FONT_LS,"font-size":44,"dominant-baseline":"central","fill":"#111"});
})();
</script>
</body></html>
